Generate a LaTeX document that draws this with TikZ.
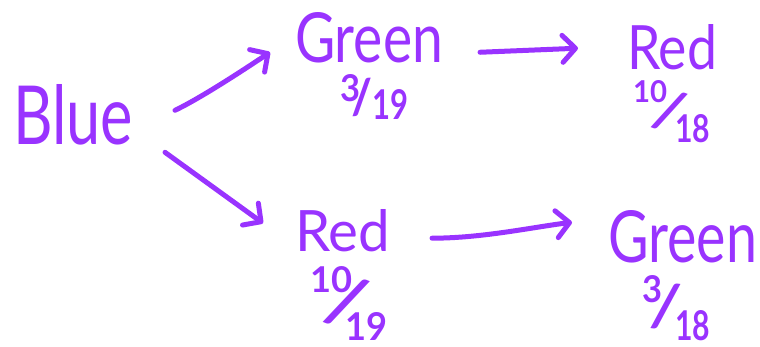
\documentclass[tikz,border=0pt]{standalone}
\usepackage{fontspec}
\setmainfont{Lato}
\usepackage{graphicx}
\usetikzlibrary{arrows.meta,calc}
\definecolor{pcol}{RGB}{153,51,255}
\newcommand\hwbox[3]{\resizebox{#1pt}{#2pt}{#3}}
\newcommand\hwslash[2]{\rotatebox{#2}{\fontsize{#1pt}{#1pt}\selectfont\bfseries /}}
\tikzset{
  word/.style={inner sep=0pt, outer sep=0pt, anchor=base west, text=pcol},
  digits/.style={inner sep=0pt, outer sep=0pt, anchor=base west, text=pcol, font=\bfseries},
  slashmark/.style={inner sep=0pt, outer sep=0pt, anchor=center, text=pcol},
  conn/.style={draw=pcol, line width=5pt, line cap=round, line join=round,
    -{Straight Barb[length=13pt,width=27pt,line cap=round,line join=round]}}
}
\begin{document}
\begin{tikzpicture}[x=1pt,y=-1pt]
\useasboundingbox (0,0) rectangle (760,347);
% words
\node[word] (blue) at (13,145) {\hwbox{120}{60}{Blue}};
\node[word] (g1) at (295,63) {\hwbox{148}{50}{Green}};
\node[word] (r1) at (627,70) {\hwbox{90}{45}{Red}};
\node[word] (r2) at (295,252) {\hwbox{95}{42}{Red}};
\node[word] (g2) at (608,262) {\hwbox{149}{52}{Green}};
% fraction 3/19
\node[digits] (g1num) at (340,102) {\hwbox{20}{27}{3}};
\node[slashmark] (g1sl) at (362,97) {\hwslash{48}{2}};
\node[digits] (g1den) at (372,120) {\hwbox{36}{30}{19}};
% fraction 10/18
\node[digits] (r1num) at (633,103) {\hwbox{34}{22}{10}};
\node[slashmark] (r1sl) at (670,111) {\hwslash{56}{-21}};
\node[digits] (r1den) at (675,143) {\hwbox{35}{28}{18}};
% fraction 10/19
\node[digits] (r2num) at (310,293) {\hwbox{42}{26}{10}};
\node[slashmark] (r2sl) at (347,302) {\hwslash{70}{-22}};
\node[digits] (r2den) at (345,340) {\hwbox{42}{28}{19}};
% fraction 3/18
\node[digits] (g2num) at (642,302) {\hwbox{20}{27}{3}};
\node[slashmark] (g2sl) at (666,306) {\hwslash{60}{-7}};
\node[digits] (g2den) at (675,340) {\hwbox{35}{30}{18}};
% connectors
\draw[conn] ($(blue.east)+(42,-5)$) .. controls +(25,-12) and +(-30,20) .. ($(g1.west)+(-25,14)$);
\draw[conn] ($(blue.east)+(32,37)$) -- ($(r2.west)+(-32,-8)$);
\draw[conn] ($(g1.east)+(37,14)$) -- ($(r1.west)+(-49,0.5)$);
\draw[conn] ($(r2.east)+(42,7)$) .. controls +(50,0) and +(-40,5) .. ($(g2.west)+(-36,-14)$);
\end{tikzpicture}
\end{document}
